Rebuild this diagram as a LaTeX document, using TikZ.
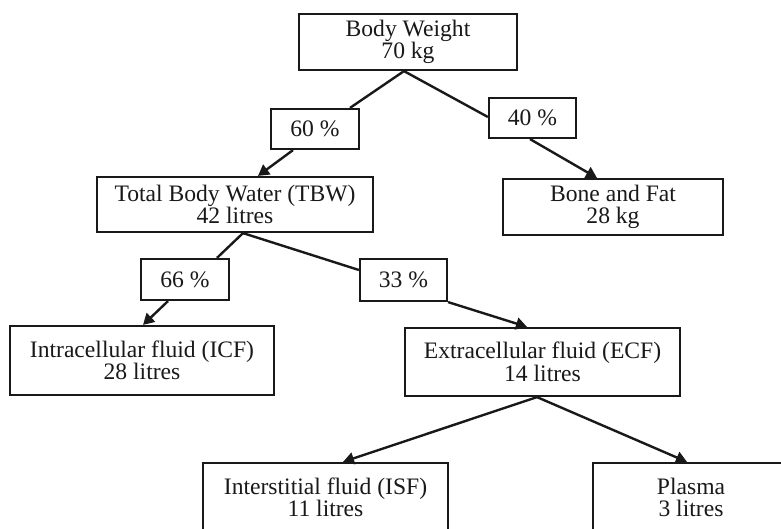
\documentclass[tikz,border=0pt]{standalone}
\usepackage{fontspec}
\setmainfont{Liberation Serif}
\usetikzlibrary{arrows.meta,calc}
\begin{document}
\begin{tikzpicture}[x=1pt,y=-1pt,
  box/.style={draw=black!90, line width=2.2pt, inner sep=0pt, align=center,
    font=\fontsize{23.6}{22.5}\selectfont, text=black!90},
  link/.style={draw=black!90, line width=2.4pt},
  arr/.style={link, -{Triangle[length=11pt,width=12pt]}}]
\path[use as bounding box] (0,0) rectangle (781,529);
\clip (0,0) rectangle (781,529);
\fill[white] (0,0) rectangle (781,529);
% nodes
\node[box, minimum width=218pt, minimum height=56pt] (bw) at (408,42) {Body Weight\\70 kg};
\node[box, minimum width=88pt, minimum height=40pt] (p60) at (315,129) {60 \%};
\node[box, minimum width=87pt, minimum height=40pt] (p40) at (532.5,118) {40 \%};
\node[box, minimum width=276pt, minimum height=55pt] (tbw) at (235,204.5) {Total Body Water (TBW)\\42 litres};
\node[box, minimum width=220pt, minimum height=56pt] (bf) at (613,207) {Bone and Fat\\28 kg};
\node[box, minimum width=88pt, minimum height=41pt] (p66) at (185,279.5) {66 \%};
\node[box, minimum width=87pt, minimum height=42pt] (p33) at (403.5,280) {33 \%};
\node[box, minimum width=264pt, minimum height=69pt] (icf) at (142,360.5) {Intracellular fluid (ICF)\\28 litres};
\node[box, minimum width=275pt, minimum height=68pt] (ecf) at (542.5,362) {Extracellular fluid (ECF)\\14 litres};
\node[box, minimum width=245pt, minimum height=69pt] (isf) at (325.5,497.5) {Interstitial fluid (ISF)\\11 litres};
\node[box, minimum width=196pt, minimum height=69pt] (pl) at (691,497.5) {Plasma\\3 litres};
% connectors
\draw[link] ($(bw.south)+(-4,0)$) -- ($(p60.north)+(35,0)$);
\draw[arr] ($(p60.south)+(-22,0)$) -- ($(tbw.north)+(23,0)$);
\draw[link] ($(bw.south)+(-4,0)$) -- ($(p40.west)+(0,-1)$);
\draw[arr] ($(p40.south)+(-2.5,0)$) -- ($(bf.north)+(-16,0)$);
\draw[link] ($(tbw.south)+(8,0)$) -- ($(p66.north)+(32,0)$);
\draw[arr] ($(p66.south)+(-17,0)$) -- ($(icf.north)+(1,0)$);
\draw[link] ($(tbw.south)+(8,0)$) -- ($(p33.west)+(0,-10)$);
\draw[arr] (p33.south east) -- ($(ecf.north)+(-15.5,0)$);
\draw[arr] ($(ecf.south)+(-5.5,0)$) -- ($(isf.north)+(17.5,0)$);
\draw[arr] ($(ecf.south)+(-5.5,0)$) -- ($(pl.north)+(-4,0)$);
\end{tikzpicture}
\end{document}
